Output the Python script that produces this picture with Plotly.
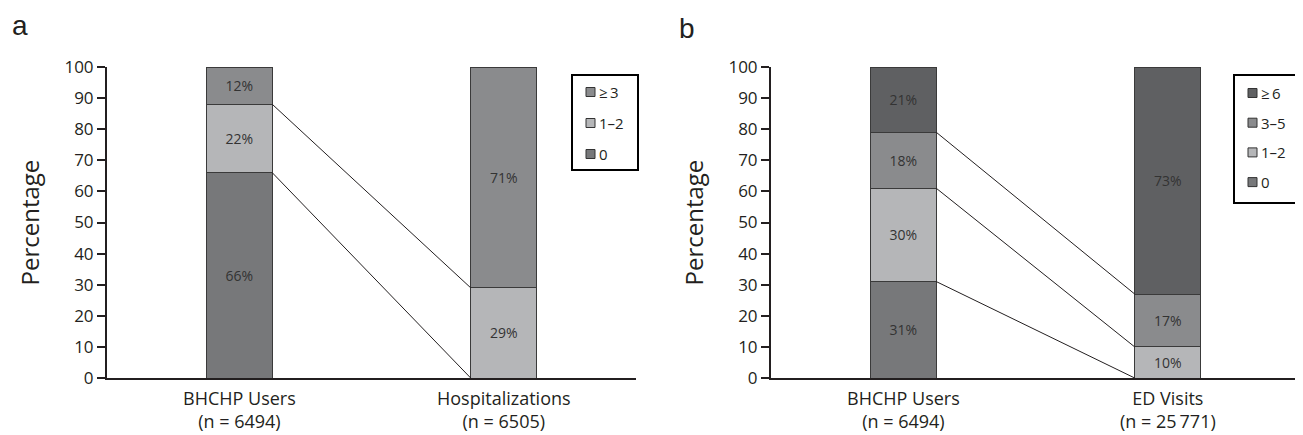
import plotly.graph_objects as go
import numpy as np

# ---------------- data ----------------
groups_a = ["BHCHP Users", "Hospitalizations"]
groups_a_n = ["(n = 6494)", "(n = 6505)"]
cats_a = ["0", "1\u20132", "\u2265\u20093"]
vals_a_0 = [66, 0]
vals_a_12 = [22, 29]
vals_a_3 = [12, 71]

groups_b = ["BHCHP Users", "ED Visits"]
groups_b_n = ["(n = 6494)", "(n = 25\u2009771)"]
cats_b = ["0", "1\u20132", "3\u20135", "\u2265\u20096"]
vals_b_0 = [31, 0]
vals_b_12 = [30, 10]
vals_b_35 = [18, 17]
vals_b_6 = [21, 73]

y_ticks = [0, 10, 20, 30, 40, 50, 60, 70, 80, 90, 100]
y_title = "Percentage"

# ---------------- styles ----------------
OFF = 8  # page body margin
W, H = 1303 - OFF, 435 - OFF
TOP, BOT = 67, 378  # in window pixels
FONT = "Open Sans"
TXT = "#231f20"
C_0 = "#77787a"
C_12 = "#b5b6b8"
C_MID = "#8a8b8d"
C_DARK = "#5f6062"
BAR_W = 0.25


def py(y):
    return (BOT - y) / (BOT - TOP)


def px(x):
    return (x - OFF) / W


fig = go.Figure()

panel_a = [(cats_a[0], vals_a_0, C_0), (cats_a[1], vals_a_12, C_12), (cats_a[2], vals_a_3, C_MID)]
panel_b = [(cats_b[0], vals_b_0, C_0), (cats_b[1], vals_b_12, C_12),
           (cats_b[2], vals_b_35, C_MID), (cats_b[3], vals_b_6, C_DARK)]

xpos = [0, 1]


def add_panel(series, xa, ya):
    for i, (name, vals, col) in enumerate(series):
        fig.add_trace(go.Bar(
            x=xpos, y=vals, name=name, width=BAR_W,
            marker=dict(color=col, line=dict(color="#3a3a3a", width=1)),
            text=[f"{v}%" if v > 0 else "" for v in vals],
            textposition="inside", insidetextanchor="middle",
            textfont=dict(family=FONT, size=14, color="#333333"),
            textangle=0, showlegend=False,
            xaxis=xa, yaxis=ya, hoverinfo="skip",
        ))
    # connectors between cumulative boundaries
    cum = np.cumsum(np.array([s[1] for s in series]), axis=0)
    lx, ly = [], []
    for row in cum[:-1]:
        lx += [xpos[0] + BAR_W / 2, xpos[1] - BAR_W / 2, None]
        ly += [row[0], row[1], None]
    fig.add_trace(go.Scatter(
        x=lx, y=ly, mode="lines", line=dict(color=TXT, width=1),
        showlegend=False, hoverinfo="skip", xaxis=xa, yaxis=ya,
    ))


add_panel(panel_a, "x", "y")
add_panel(panel_b, "x2", "y2")

axis_common_y = dict(
    range=[0, 100], tickvals=y_ticks, ticks="outside", ticklen=8, tickwidth=1.5,
    tickcolor=TXT, showline=True, linecolor=TXT, linewidth=2, showgrid=False,
    zeroline=False, tickfont=dict(family=FONT, size=17, color=TXT),
)
axis_common_x = dict(
    range=[-0.5, 1.5], showline=True, linecolor=TXT, linewidth=2, showgrid=False,
    zeroline=False, showticklabels=False, ticks="",
)

fig.update_layout(
    width=W, height=H,
    margin=dict(l=0, r=0, t=TOP - OFF, b=H - (BOT - OFF)),
    paper_bgcolor="white", plot_bgcolor="white",
    barmode="stack",
    font=dict(family=FONT, color=TXT),
    xaxis=dict(domain=[px(107), px(636)], anchor="y", **axis_common_x),
    yaxis=dict(domain=[0, 1], anchor="x", **axis_common_y),
    xaxis2=dict(domain=[px(771), px(1300)], anchor="y2", **axis_common_x),
    yaxis2=dict(domain=[0, 1], anchor="x2", **axis_common_y),
    showlegend=False,
)

# y-axis titles
for xc in (29, 693):
    fig.add_annotation(x=px(xc), y=0.5, xref="paper", yref="paper", text=y_title,
                       textangle=-90, showarrow=False, xanchor="center", yanchor="middle",
                       font=dict(family=FONT, size=24, color=TXT))


# ---------------- legends (drawn boxes) ----------------
def draw_legend(series, box, sq_x, text_x, y0, step):
    x0, y_top, x1, y_bot = box
    fig.add_shape(type="rect", xref="paper", yref="paper",
                  x0=px(x0), x1=px(x1), y0=py(y_bot), y1=py(y_top),
                  line=dict(color="#000000", width=2), fillcolor="white", layer="above")
    for k, (name, vals, col) in enumerate(reversed(series)):
        yc = y0 + k * step
        fig.add_shape(type="rect", xref="paper", yref="paper",
                      x0=px(sq_x), x1=px(sq_x + 9), y0=py(yc + 4.5), y1=py(yc - 4.5),
                      line=dict(color="#333333", width=1), fillcolor=col, layer="above")
        fig.add_annotation(x=px(text_x), y=py(yc), xref="paper", yref="paper", text=name,
                           showarrow=False, xanchor="left", yanchor="middle",
                           font=dict(family=FONT, size=15, color=TXT))


draw_legend(panel_a, (572, 75, 638, 170), 586, 597, 92, 31)
draw_legend(panel_b, (1234, 75, 1298, 203), 1248, 1259, 93, 29.7)

# category labels
for xa, ya, names, ns in [("x", "y", groups_a, groups_a_n), ("x2", "y2", groups_b, groups_b_n)]:
    for i, (nm, nn) in enumerate(zip(names, ns)):
        fig.add_annotation(x=xpos[i], y=0, xref=xa, yref=ya, text=f"{nm}<br>{nn}",
                           showarrow=False, yanchor="middle", yshift=-31.5,
                           font=dict(family=FONT, size=18, color=TXT))

# panel letters
fig.add_annotation(x=px(10), y=py(8), xref="paper", yref="paper", text="a",
                   showarrow=False, xanchor="left", yanchor="top",
                   font=dict(family="Liberation Sans", size=28, color=TXT))
fig.add_annotation(x=px(677), y=py(11), xref="paper", yref="paper", text="b",
                   showarrow=False, xanchor="left", yanchor="top",
                   font=dict(family="Liberation Sans", size=28, color=TXT))

fig.write_html("out.html")
